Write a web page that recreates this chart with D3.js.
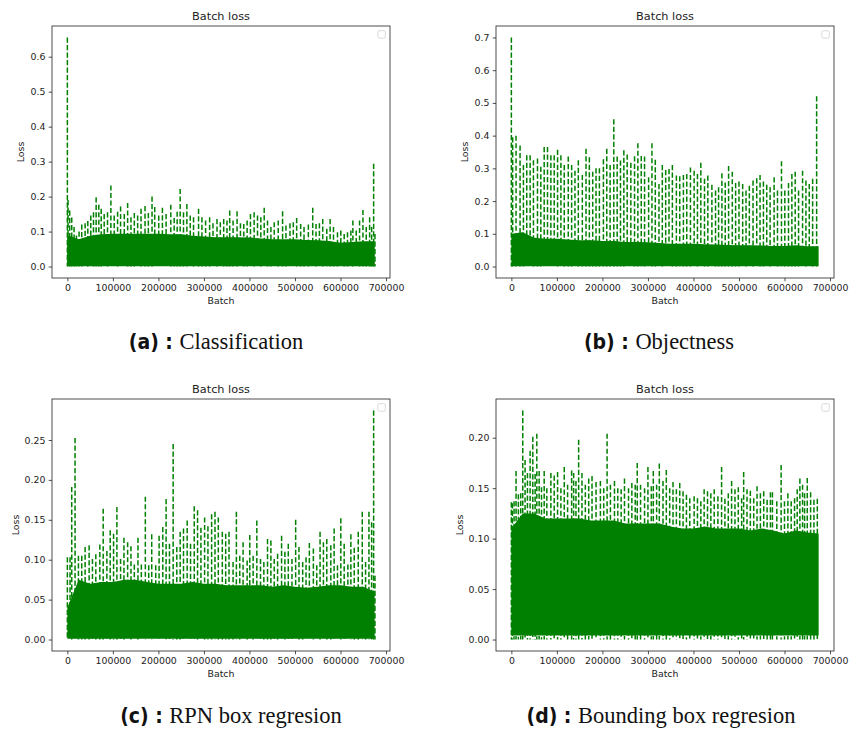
<!DOCTYPE html>
<html>
<head>
<meta charset="utf-8">
<script src="https://cdn.jsdelivr.net/npm/d3@7/dist/d3.min.js"></script>
<style>
  body { margin: 0; background: #fff; }
  svg { display: block; }
  .tick text { font-family: "DejaVu Sans", sans-serif; font-size: 9.4px; fill: #222; }
  .tick line { stroke: #222; stroke-width: 0.8; }
</style>
</head>
<body>
<script>
// x axis ticks, shared
var batchTicks = [0, 100000, 200000, 300000, 400000, 500000, 600000, 700000];

// y axis ticks per panel
var ticksClassification = [0, 0.1, 0.2, 0.3, 0.4, 0.5, 0.6];
var ticksObjectness = [0, 0.1, 0.2, 0.3, 0.4, 0.5, 0.6, 0.7];
var ticksRpnBox = [0, 0.05, 0.10, 0.15, 0.20, 0.25];
var ticksBbox = [0, 0.05, 0.10, 0.15, 0.20];

// top of the dense (solid) band, sampled every 25000 batches
var bandBatch = [0, 25000, 50000, 75000, 100000, 125000, 150000, 175000, 200000, 225000,
  250000, 275000, 300000, 325000, 350000, 375000, 400000, 425000, 450000, 475000,
  500000, 525000, 550000, 575000, 600000, 625000, 650000, 675000];
var bandClassification = [0.09, 0.078, 0.088, 0.092, 0.094, 0.094, 0.094, 0.094, 0.094, 0.092,
  0.092, 0.088, 0.086, 0.084, 0.084, 0.084, 0.083, 0.08, 0.078, 0.078,
  0.078, 0.076, 0.075, 0.073, 0.068, 0.07, 0.072, 0.072];
var bandObjectness = [0.10, 0.105, 0.088, 0.085, 0.085, 0.083, 0.08, 0.08, 0.078, 0.078,
  0.075, 0.075, 0.074, 0.072, 0.07, 0.07, 0.07, 0.068, 0.067, 0.066,
  0.065, 0.065, 0.064, 0.063, 0.063, 0.065, 0.062, 0.062];
var bandRpnBox = [0.04, 0.075, 0.07, 0.072, 0.072, 0.075, 0.075, 0.072, 0.07, 0.07,
  0.07, 0.072, 0.07, 0.07, 0.068, 0.068, 0.068, 0.068, 0.066, 0.068,
  0.066, 0.065, 0.066, 0.068, 0.068, 0.066, 0.066, 0.06];
var bandBbox = [0.11, 0.125, 0.125, 0.12, 0.12, 0.12, 0.12, 0.118, 0.118, 0.118,
  0.115, 0.115, 0.115, 0.115, 0.112, 0.11, 0.11, 0.112, 0.11, 0.11,
  0.11, 0.108, 0.11, 0.108, 0.105, 0.108, 0.106, 0.105];

// visible peaks [batch, loss]
var spikesClassification = [[0,0.655],[1500,0.19],[5100,0.16],[9600,0.14],[14700,0.113],[19900,0.089],[25700,0.10],[31600,0.12],[39000,0.124],[44900,0.13],[51500,0.146],[57400,0.155],[63200,0.198],[69100,0.177],[74300,0.165],[80900,0.15],[88200,0.155],[95600,0.232],[102900,0.146],[110300,0.157],[116900,0.172],[125000,0.15],[132400,0.182],[139700,0.141],[147100,0.153],[154400,0.146],[161800,0.165],[170600,0.173],[177900,0.153],[186000,0.20],[191900,0.17],[200700,0.146],[208800,0.168],[216900,0.15],[227200,0.177],[234600,0.139],[241200,0.157],[247800,0.222],[255100,0.155],[262500,0.179],[269900,0.146],[277200,0.141],[288200,0.165],[295600,0.141],[303700,0.132],[312500,0.141],[319900,0.124],[328700,0.136],[336000,0.127],[343400,0.136],[350700,0.132],[356600,0.16],[364000,0.132],[372800,0.158],[380200,0.124],[387500,0.122],[394900,0.132],[402200,0.15],[410300,0.155],[417700,0.146],[425000,0.141],[432400,0.168],[439700,0.132],[447100,0.113],[454400,0.127],[463200,0.132],[472800,0.158],[480200,0.117],[489000,0.124],[496300,0.127],[503700,0.139],[512500,0.122],[519900,0.113],[529400,0.12],[539000,0.168],[546300,0.122],[553700,0.124],[561000,0.136],[569900,0.108],[577200,0.136],[584600,0.113],[593400,0.098],[600700,0.103],[608100,0.093],[615400,0.098],[622800,0.103],[627200,0.132],[634600,0.103],[641900,0.132],[649300,0.162],[656600,0.113],[664000,0.141],[668400,0.113],[672800,0.294],[675700,0.093]];

var spikesObjectness = [[0,0.70],[2900,0.395],[10300,0.40],[19100,0.37],[26500,0.31],[33800,0.34],[41200,0.34],[48500,0.325],[57400,0.33],[64700,0.305],[72100,0.365],[79400,0.365],[86800,0.34],[94100,0.34],[101500,0.357],[108800,0.34],[116200,0.31],[125000,0.336],[132400,0.31],[139700,0.293],[147100,0.325],[155900,0.28],[164000,0.36],[171300,0.334],[178700,0.29],[186000,0.30],[193400,0.30],[202200,0.328],[209600,0.36],[216900,0.31],[225000,0.45],[232400,0.336],[239700,0.324],[247100,0.355],[254400,0.342],[262500,0.317],[270600,0.337],[277900,0.377],[285300,0.338],[292600,0.336],[301500,0.273],[308800,0.377],[316200,0.326],[324300,0.252],[331600,0.31],[339000,0.295],[346300,0.298],[353700,0.31],[362500,0.278],[369900,0.276],[377900,0.28],[385300,0.283],[393400,0.303],[401500,0.293],[408800,0.283],[416200,0.317],[424300,0.268],[431600,0.278],[440500,0.25],[448500,0.232],[455200,0.242],[462500,0.285],[469800,0.257],[477200,0.307],[485300,0.29],[492600,0.255],[500000,0.26],[508100,0.252],[515500,0.232],[522800,0.247],[530900,0.263],[539000,0.27],[546300,0.28],[553700,0.26],[561000,0.25],[568400,0.242],[577200,0.273],[584600,0.232],[593400,0.322],[600700,0.232],[608800,0.255],[616200,0.283],[623500,0.29],[630900,0.232],[639700,0.293],[647100,0.263],[654400,0.252],[661800,0.268],[670600,0.52]];

var spikesRpnBox = [[0,0.103],[5900,0.103],[9600,0.191],[16900,0.2525],[24300,0.105],[31600,0.105],[39000,0.116],[47800,0.118],[55100,0.101],[62500,0.107],[71300,0.119],[78700,0.164],[86800,0.111],[94100,0.137],[101500,0.1325],[108800,0.166],[116900,0.101],[124300,0.1275],[132400,0.122],[139700,0.117],[147100,0.094],[155100,0.1275],[162500,0.094],[171300,0.179],[178700,0.093],[185300,0.132],[194100,0.093],[201500,0.13],[209600,0.141],[216900,0.176],[224300,0.12],[232400,0.245],[240400,0.116],[247800,0.135],[255100,0.139],[263200,0.149],[270600,0.12],[278700,0.167],[286000,0.162],[293400,0.14],[301500,0.153],[308800,0.142],[316900,0.157],[324300,0.16],[331600,0.153],[340400,0.135],[347800,0.1325],[355100,0.135],[364000,0.097],[371300,0.16],[378700,0.105],[386000,0.122],[394900,0.099],[400700,0.131],[408100,0.105],[416200,0.149],[424300,0.101],[431600,0.097],[439700,0.126],[447100,0.124],[454400,0.101],[461800,0.1075],[470600,0.13],[477900,0.11],[485300,0.12],[493400,0.101],[501500,0.15],[508800,0.116],[516900,0.097],[524300,0.103],[531600,0.121],[540400,0.114],[547800,0.093],[555100,0.135],[562500,0.122],[569900,0.126],[578700,0.118],[586000,0.139],[593400,0.093],[600700,0.152],[608100,0.12],[616200,0.094],[622800,0.132],[630200,0.115],[639000,0.135],[647800,0.16],[655100,0.097],[662500,0.16],[668400,0.147],[672800,0.287],[675700,0.08]];

var spikesBbox = [[0,0.136],[2200,0.135],[5900,0.137],[10300,0.167],[15400,0.144],[20600,0.145],[25000,0.227],[30100,0.178],[35300,0.165],[41200,0.187],[47100,0.201],[52200,0.164],[55900,0.204],[61000,0.167],[66200,0.151],[72100,0.167],[77900,0.15],[86800,0.165],[94100,0.1625],[101500,0.166],[108800,0.15],[116200,0.171],[123500,0.1535],[132400,0.1675],[136800,0.165],[141900,0.157],[147800,0.198],[155100,0.165],[162500,0.1535],[169900,0.1595],[177200,0.162],[186000,0.156],[195600,0.157],[202900,0.15],[210300,0.204],[217600,0.1535],[226500,0.157],[233800,0.15],[241200,0.149],[248500,0.1595],[257400,0.15],[264700,0.155],[272100,0.1535],[276500,0.175],[283800,0.1535],[292600,0.15],[300000,0.171],[307400,0.152],[311800,0.167],[319100,0.1535],[325000,0.1745],[333100,0.157],[340400,0.168],[347800,0.15],[355100,0.156],[362500,0.149],[369900,0.155],[377200,0.147],[384600,0.1435],[391900,0.14],[401500,0.142],[408800,0.14],[416200,0.137],[423500,0.149],[430900,0.147],[438200,0.145],[445600,0.149],[453700,0.142],[461800,0.171],[469100,0.1395],[476500,0.145],[483800,0.157],[491200,0.149],[498500,0.151],[505900,0.14],[510300,0.166],[517600,0.149],[525000,0.1475],[532400,0.14],[539700,0.152],[547100,0.145],[554400,0.147],[561800,0.1385],[569100,0.146],[573500,0.146],[583100,0.137],[592600,0.173],[600000,0.137],[607400,0.145],[614700,0.137],[622100,0.14],[627900,0.149],[633800,0.1595],[639700,0.1535],[644100,0.145],[650000,0.16],[657400,0.146],[664700,0.1385],[672100,0.1395]];

var panels = [
  { tag: '(a) :', caption: 'Classification', band: bandClassification, floor: 0.001, spikes: spikesClassification, ticks: ticksClassification, fmt: '.1f', left: 52, top: 26, capX: 216, capY: 349 },
  { tag: '(b) :', caption: 'Objectness', band: bandObjectness, floor: 0.001, spikes: spikesObjectness, ticks: ticksObjectness, fmt: '.1f', left: 496, top: 26, capX: 659, capY: 349 },
  { tag: '(c) :', caption: 'RPN box regresion', band: bandRpnBox, floor: 0.001, spikes: spikesRpnBox, ticks: ticksRpnBox, fmt: '.2f', left: 52, top: 399, capX: 231, capY: 723 },
  { tag: '(d) :', caption: 'Bounding box regresion', band: bandBbox, floor: 0.004, spikes: spikesBbox, ticks: ticksBbox, fmt: '.2f', left: 496, top: 399, capX: 661, capY: 723 }
];

var green = '#008000';
var plotW = 338, plotH = 252;

var svg = d3.select('body').append('svg')
  .attr('width', 850)
  .attr('height', 731);

svg.append('rect').attr('width', 850).attr('height', 731).attr('fill', '#fff');

function drawPanel(p) {
  var g = svg.append('g').attr('transform', 'translate(' + p.left + ',' + p.top + ')');

  var xMax = d3.max(bandBatch);
  var yMax = d3.max(p.spikes, function(d) { return d[1]; });
  var x = d3.scaleLinear().domain([-0.05 * xMax, 1.05 * xMax]).range([0, plotW]);
  var y = d3.scaleLinear().domain([-0.05 * yMax, 1.05 * yMax]).range([plotH, 0]);

  // dense band
  var area = d3.area()
    .x(function(d, i) { return x(bandBatch[i]); })
    .y0(y(p.floor))
    .y1(function(d) { return y(d); });

  g.append('path')
    .datum(p.band)
    .attr('d', area)
    .attr('fill', green);

  // peaks: dashed strokes drawn from the peak down, so the dash phase follows each peak
  g.selectAll('line.spike')
    .data(p.spikes)
    .enter()
    .append('line')
    .classed('spike', true)
    .attr('x1', function(d) { return x(d[0]); })
    .attr('x2', function(d) { return x(d[0]); })
    .attr('y1', function(d) { return y(d[1]); })
    .attr('y2', y(0))
    .style('stroke', green)
    .style('stroke-width', 1.5)
    .style('stroke-dasharray', '5.2,2.3');

  // axes
  var xAxis = d3.axisBottom(x)
    .tickValues(batchTicks)
    .tickFormat(d3.format('d'))
    .tickSize(3.3)
    .tickPadding(3.3);
  var gx = g.append('g').attr('transform', 'translate(0,' + plotH + ')').call(xAxis);
  gx.select('.domain').remove();

  var yAxis = d3.axisLeft(y)
    .tickValues(p.ticks)
    .tickFormat(d3.format(p.fmt))
    .tickSize(3.3)
    .tickPadding(3.3);
  var gy = g.append('g').call(yAxis);
  gy.select('.domain').remove();

  // frame
  g.append('rect')
    .attr('width', plotW)
    .attr('height', plotH)
    .attr('fill', 'none')
    .style('stroke', '#222')
    .style('stroke-width', 0.8);

  // empty legend box
  g.append('rect')
    .attr('x', plotW - 4.7 - 7.5)
    .attr('y', 4.7)
    .attr('width', 7.5)
    .attr('height', 7.5)
    .attr('rx', 1.5)
    .attr('fill', '#fff')
    .style('stroke', '#d0d0d0')
    .style('stroke-width', 0.8);

  // title
  g.append('text')
    .attr('x', plotW / 2)
    .attr('y', -5.7)
    .attr('text-anchor', 'middle')
    .style('font-family', '"DejaVu Sans", sans-serif')
    .style('font-size', '11.3px')
    .style('fill', '#222')
    .text('Batch loss');

  g.append('text')
    .attr('x', plotW / 2)
    .attr('y', plotH + 26.4)
    .attr('text-anchor', 'middle')
    .style('font-family', '"DejaVu Sans", sans-serif')
    .style('font-size', '9.4px')
    .style('fill', '#222')
    .text('Batch');

  var yb = gy.node().getBBox();
  g.append('text')
    .attr('transform', 'translate(' + (yb.x - 6) + ',' + (plotH / 2) + ') rotate(-90)')
    .attr('text-anchor', 'middle')
    .style('font-family', '"DejaVu Sans", sans-serif')
    .style('font-size', '9.4px')
    .style('fill', '#222')
    .text('Loss');

  // subfigure caption
  var cap = svg.append('text')
    .attr('x', p.capX)
    .attr('y', p.capY)
    .attr('text-anchor', 'middle')
    .style('fill', '#111');
  cap.append('tspan')
    .style('font-family', '"Liberation Sans Narrow", "DejaVu Sans Condensed", "DejaVu Sans", sans-serif')
    .style('font-weight', 'bold')
    .style('font-size', '21px')
    .text(p.tag + ' ');
  cap.append('tspan')
    .style('font-family', '"Liberation Serif", "DejaVu Serif", serif')
    .style('font-size', '22.5px')
    .text(p.caption);
}

panels.forEach(drawPanel);
</script>
</body>
</html>
